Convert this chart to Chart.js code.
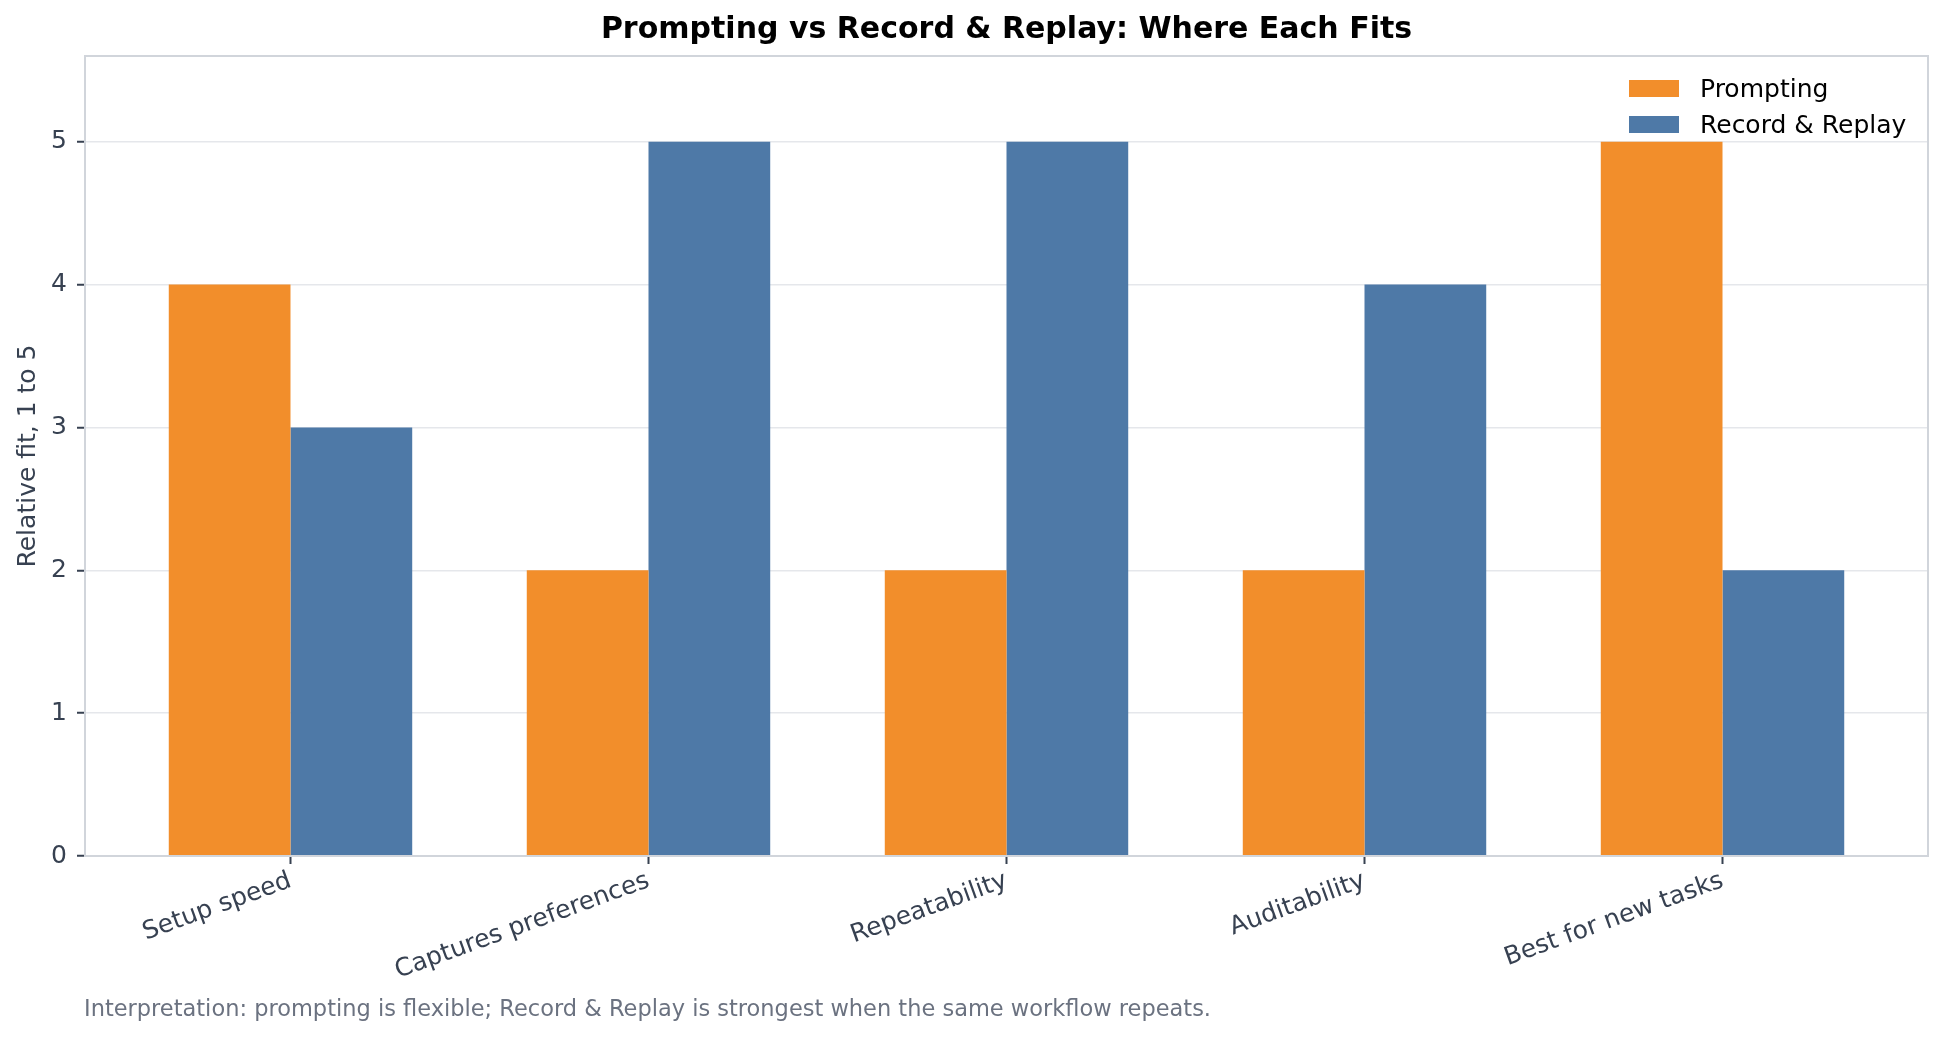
<!DOCTYPE html>
<html><head><meta charset="utf-8">
<script src="https://cdn.jsdelivr.net/npm/chart.js@4.4.1/dist/chart.umd.min.js"></script>
<style>
html,body{margin:0;padding:0;background:#fff;}
#wrap{position:relative;width:1945px;height:1040px;}
#footer{position:absolute;left:84px;top:995px;font-family:"DejaVu Sans";font-size:22.5px;line-height:27px;color:#6b7280;white-space:nowrap;}
</style></head><body>
<div id="wrap"><canvas id="c" width="1945" height="1040"></canvas>
<div id="footer">Interpretation: prompting is flexible; Record &amp; Replay is strongest when the same workflow repeats.</div></div>
<script>
const categories = ["Setup speed", "Captures preferences", "Repeatability", "Auditability", "Best for new tasks"];
const seriesNames = ["Prompting", "Record & Replay"];
const promptingScores = [4, 2, 2, 2, 5];
const replayScores = [3, 5, 5, 4, 2];
const yTickValues = [0, 1, 2, 3, 4, 5];
const seriesColors = ["#f28e2b", "#4e79a7"];
const chartTitle = "Prompting vs Record & Replay: Where Each Fits";
const yAxisTitle = "Relative fit, 1 to 5";

const FONT = "DejaVu Sans";
const TEXT = "#374151";
const SPINE = "#d1d5db";

const frame = {
  id: 'frame',
  afterDatasetsDraw(chart) {
    const a = chart.chartArea, ctx = chart.ctx;
    ctx.save();
    ctx.strokeStyle = SPINE;
    ctx.lineWidth = 2;
    ctx.strokeRect(a.left, a.top, a.right - a.left, a.bottom - a.top);
    ctx.restore();
  },
  afterDraw(chart) {
    const ctx = chart.ctx;
    ctx.save();
    ctx.font = "25px '" + FONT + "'";
    ctx.textBaseline = 'alphabetic';
    ctx.textAlign = 'left';
    chart.data.datasets.forEach((ds, i) => {
      const y = 80 + i * 36;
      ctx.fillStyle = ds.backgroundColor;
      ctx.fillRect(1629, y, 50, 17);
      ctx.fillStyle = '#000';
      ctx.fillText(ds.label, 1700, y + 17);
    });
    ctx.restore();
  }
};

const toPoints = arr => arr.map((v, i) => ({x: i, y: v}));

new Chart(document.getElementById('c'), {
  type: 'bar',
  data: {
    datasets: [
      {label: seriesNames[0], data: toPoints(promptingScores), backgroundColor: seriesColors[0], borderWidth: 0},
      {label: seriesNames[1], data: toPoints(replayScores), backgroundColor: seriesColors[1], borderWidth: 0}
    ]
  },
  options: {
    responsive: false,
    animation: false,
    events: [],
    categoryPercentage: 0.68,
    barPercentage: 1.0,
    layout: {padding: {left: 0, right: 17, top: 0, bottom: 0}},
    plugins: {
      legend: {display: false},
      tooltip: {enabled: false},
      title: {
        display: true, text: chartTitle, fullSize: false, color: '#000',
        font: {family: FONT, size: 30, weight: 'bold', lineHeight: 1.2},
        padding: {top: 12, bottom: 8}
      }
    },
    scales: {
      x: {
        type: 'linear', min: -0.574, max: 4.574, offset: false,
        afterBuildTicks: s => { s.ticks = categories.map((_, i) => ({value: i})); },
        afterFit: s => { s.height = 184; },
        border: {display: false},
        grid: {offset: false, drawOnChartArea: false, tickColor: TEXT, tickLength: 8, tickWidth: 2},
        ticks: {
          autoSkip: false, minRotation: 20, maxRotation: 20, padding: 2, color: TEXT,
          font: {family: FONT, size: 25},
          callback: v => categories[v]
        }
      },
      y: {
        min: 0, max: 5.6,
        afterBuildTicks: s => { s.ticks = yTickValues.map(v => ({value: v})); },
        afterFit: s => { s.width = 85; },
        border: {display: false},
        grid: {color: '#e5e7eb', lineWidth: 1.5, tickColor: TEXT, tickLength: 8, tickWidth: 2},
        ticks: {padding: 10, color: TEXT, font: {family: FONT, size: 25}},
        title: {display: true, text: yAxisTitle, color: TEXT, font: {family: FONT, size: 25, lineHeight: 1.2}, padding: {top: 13, bottom: 0}}
      }
    }
  },
  plugins: [frame]
});
</script>
</body></html>
